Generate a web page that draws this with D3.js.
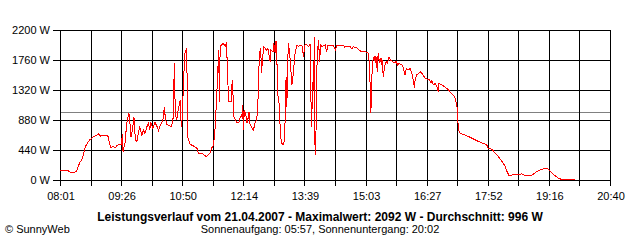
<!DOCTYPE html>
<html>
<head>
<meta charset="utf-8">
<script src="https://cdn.jsdelivr.net/npm/d3@7"></script>
<style>
  body { margin: 0; background: #fff; }
  text { font-family: "Liberation Sans", Arial, sans-serif; font-size: 11px; fill: #000; }
</style>
</head>
<body>
<svg width="640" height="240"></svg>
<script>
// Messzeitpunkte (Uhrzeit) und Leistung in W
const zeiten = [
  "08:01","08:12","08:15","08:22","08:24","08:26","08:29","08:31","08:33","08:36",
  "08:38","08:42","08:47","08:52","08:54","08:57","09:01","09:07","09:09","09:11",
  "09:15","09:17","09:20","09:24","09:26","09:27","09:28","09:31","09:33","09:36",
  "09:37","09:39","09:41","09:43","09:45","09:47","09:49","09:51","09:54","09:56",
  "09:58","10:01","10:03","10:05","10:06","10:09","10:12","10:15","10:17","10:19",
  "10:23","10:25","10:26","10:28","10:33","10:35","10:37","10:38","10:39","10:40",
  "10:42","10:44","10:47","10:48","10:49","10:51","10:53","10:54","10:56","10:57",
  "10:58","11:00","11:05","11:10","11:12","11:17","11:23","11:28","11:30","11:33",
  "11:34","11:35","11:37","11:40","11:41","11:42","11:46","11:49","11:51","11:52",
  "11:54","11:57","11:58","11:59","12:00","12:01","12:03","12:05","12:08","12:10",
  "12:12","12:13","12:14","12:15","12:16","12:17","12:19","12:21","12:22","12:23",
  "12:26","12:28","12:30","12:32","12:33","12:35","12:36","12:38","12:39","12:42",
  "12:44","12:46","12:48","12:51","12:52","12:55","12:56","12:58","12:59","13:00",
  "13:01","13:02","13:04","13:05","13:07","13:09","13:11","13:13","13:14","13:15",
  "13:16","13:18","13:21","13:23","13:25","13:28","13:30","13:32","13:35","13:37",
  "13:39","13:41","13:44","13:46","13:48","13:50","13:51","13:52","13:53","13:54",
  "13:55","13:56","13:58","13:59","14:01","14:03","14:05","14:07","14:09","14:11",
  "14:16","14:18","14:21","14:23","14:27","14:32","14:34","14:37","14:41","14:44",
  "14:46","14:48","14:50","14:54","14:58","15:02","15:07","15:09","15:10","15:11",
  "15:12","15:13","15:15","15:16","15:17","15:19","15:20","15:22","15:24","15:25",
  "15:26","15:27","15:29","15:31","15:33","15:35","15:37","15:40","15:42","15:45",
  "15:47","15:49","15:53","15:55","15:57","15:59","16:02","16:04","16:06","16:09",
  "16:10","16:11","16:13","16:17","16:19","16:22","16:25","16:28","16:31","16:33",
  "16:34","16:36","16:39","16:41","16:43","16:44","16:48","16:52","16:57","17:02",
  "17:06","17:08","17:09","17:10","17:11","17:13","17:20","17:27","17:36","17:45",
  "17:50","17:52","17:57","18:01","18:06","18:11","18:15","18:18","18:21","18:24",
  "18:31","18:38","18:43","18:52","18:57","19:01","19:06","19:12","19:15","19:20",
  "19:24","19:29","19:33","19:52"
];
const leistung = [
  136,136,117,117,136,195,270,293,367,489,
  528,587,636,660,675,645,650,650,562,479,
  489,469,508,528,520,675,415,560,831,978,
  905,636,733,929,587,562,684,770,660,733,
  684,782,831,733,855,758,846,782,723,792,
  880,1066,953,816,792,782,905,1369,1711,978,
  880,1027,1173,880,782,1295,1833,1882,1931,636,
  611,528,499,465,391,391,342,391,465,513,
  660,758,1173,1907,1149,1955,2005,1965,2005,1565,
  1149,1149,1369,1467,1173,929,880,846,846,929,
  929,1100,733,1027,929,1002,831,929,1002,831,
  758,733,831,880,953,1320,1858,1931,1565,1955,
  1931,1907,1931,1735,1907,1882,2005,1858,2029,2029,
  1320,1222,1075,660,538,520,587,1515,1075,1540,
  2005,1858,1393,1565,1833,1980,1955,1980,1965,1809,
  1980,1990,1955,1990,782,1442,1320,2092,367,465,
  1320,1858,2053,1735,1980,1955,1970,1980,1882,1980,
  1980,1980,1907,1970,1980,1975,1950,1965,1965,1916,
  1960,1935,1945,1900,1880,1882,1858,1393,978,1369,
  1687,1760,1819,1711,1819,1589,1858,1711,1785,1687,
  1760,1515,1662,1735,1711,1799,1760,1735,1721,1735,
  1687,1711,1687,1638,1540,1638,1615,1638,1589,1442,
  1345,1467,1540,1574,1589,1540,1491,1476,1467,1418,
  1467,1393,1418,1369,1295,1418,1393,1369,1320,1261,
  1213,1125,1066,880,733,684,660,626,577,538,
  513,465,450,401,342,269,205,122,59,73,
  83,88,68,68,108,137,156,171,156,98,
  64,24,10,10
];
const durchschnitt = 996;
const yTicks = [0, 440, 880, 1320, 1760, 2200];
const xTickLabels = ["08:01","09:26","10:50","12:14","13:39","15:03","16:27","17:52","19:16","20:40"];
const titel = "Leistungsverlauf vom 21.04.2007 - Maximalwert: 2092 W - Durchschnitt: 996 W";
const untertitel = "Sonnenaufgang: 05:57, Sonnenuntergang: 20:02";
const copyright = "\u00a9 SunnyWeb";

const toMin = s => { const [h, m] = s.split(":").map(Number); return h * 60 + m; };
const data = zeiten.map((z, i) => ({ m: toMin(z), w: leistung[i] }));

const t0 = toMin(xTickLabels[0]);
const t1 = toMin(xTickLabels[xTickLabels.length - 1]);

const svg = d3.select("svg");
const x = d3.scaleLinear().domain([t0, t1]).range([60, 610]);
const y = d3.scaleLinear().domain([0, 2200]).range([180, 30]);

// every label has a minor tick in between
const nTicks = (xTickLabels.length - 1) * 2;
const xTickVals = d3.range(nTicks + 1).map(i => t0 + i * (t1 - t0) / nTicks);

const px = v => Math.round(v) + 0.5;

const grid = svg.append("g").attr("shape-rendering", "crispEdges");

// average line
grid.append("line")
  .attr("x1", 60).attr("x2", 610)
  .attr("y1", px(y(durchschnitt))).attr("y2", px(y(durchschnitt)))
  .attr("stroke", "#808080");

grid.selectAll(".hl").data(yTicks).enter().append("line")
  .attr("x1", 53).attr("x2", px(x(t1)))
  .attr("y1", d => px(y(d))).attr("y2", d => px(y(d)))
  .attr("stroke", "#000");

grid.selectAll(".vl").data(xTickVals).enter().append("line")
  .attr("x1", d => px(x(d))).attr("x2", d => px(x(d)))
  .attr("y1", px(y(2200))).attr("y2", 186)
  .attr("stroke", "#000");

svg.selectAll(".yl").data(yTicks).enter().append("text")
  .attr("x", 50).attr("y", d => y(d) + 4)
  .attr("text-anchor", "end")
  .text(d => d + " W");

svg.selectAll(".xl").data(xTickLabels).enter().append("text")
  .attr("x", (d, i) => x(xTickVals[i * 2]) + 1)
  .attr("y", 200)
  .attr("text-anchor", "middle")
  .text(d => d);

const line = d3.line().x(d => x(d.m)).y(d => y(d.w));
svg.append("path")
  .datum(data)
  .attr("d", line)
  .attr("fill", "none")
  .attr("stroke", "#ff0000")
  .attr("stroke-width", 1)
  .attr("shape-rendering", "crispEdges");

svg.append("text").attr("x", 320).attr("y", 221)
  .attr("text-anchor", "middle")
  .style("font-weight", "bold").style("font-size", "12px")
  .text(titel);
svg.append("text").attr("x", 320).attr("y", 233)
  .attr("text-anchor", "middle").text(untertitel);
svg.append("text").attr("x", 5).attr("y", 233).text(copyright);
</script>
</body>
</html>
